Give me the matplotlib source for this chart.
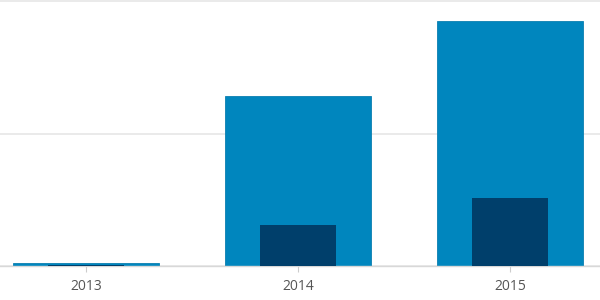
import matplotlib
matplotlib.use("Agg")
import matplotlib.pyplot as plt

categories = ["2013", "2014", "2015"]
total_values = [2, 128, 185]
part_values = [1, 31, 51]
y_ticks = [0, 100, 200]

plt.rcParams['font.family'] = ['Open Sans', 'DejaVu Sans']

fig = plt.figure(figsize=(6, 3), dpi=100)
ax = fig.add_axes([0, 34/300, 1, 265/300])

x = list(range(len(categories)))
ax.bar(x, total_values, width=0.684, color="#0086be", edgecolor="#0a7fb0", linewidth=0.6, zorder=2)
ax.bar(x, part_values, width=0.363, color="#003f6b", zorder=3)

ax.set_xlim(-86/212, 2 + 90/212)
ax.set_ylim(0, 200)
ax.set_yticks(y_ticks)
ax.yaxis.grid(True, color="#e6e6e6", linewidth=1.2, zorder=0)
for gl in ax.get_ygridlines():
    gl.set_clip_on(False)
ax.tick_params(axis='y', length=0, labelleft=False)
ax.set_xticks(x)
ax.set_xticklabels(categories, fontsize=10, color="#555555")
ax.tick_params(axis='x', length=4, color="#cccccc", width=0.8, pad=5)
for s in ["top", "left", "right"]:
    ax.spines[s].set_visible(False)
ax.spines["bottom"].set_color("#d8d8d8")
ax.spines["bottom"].set_linewidth(1)

fig.savefig("out.png", dpi=100)
